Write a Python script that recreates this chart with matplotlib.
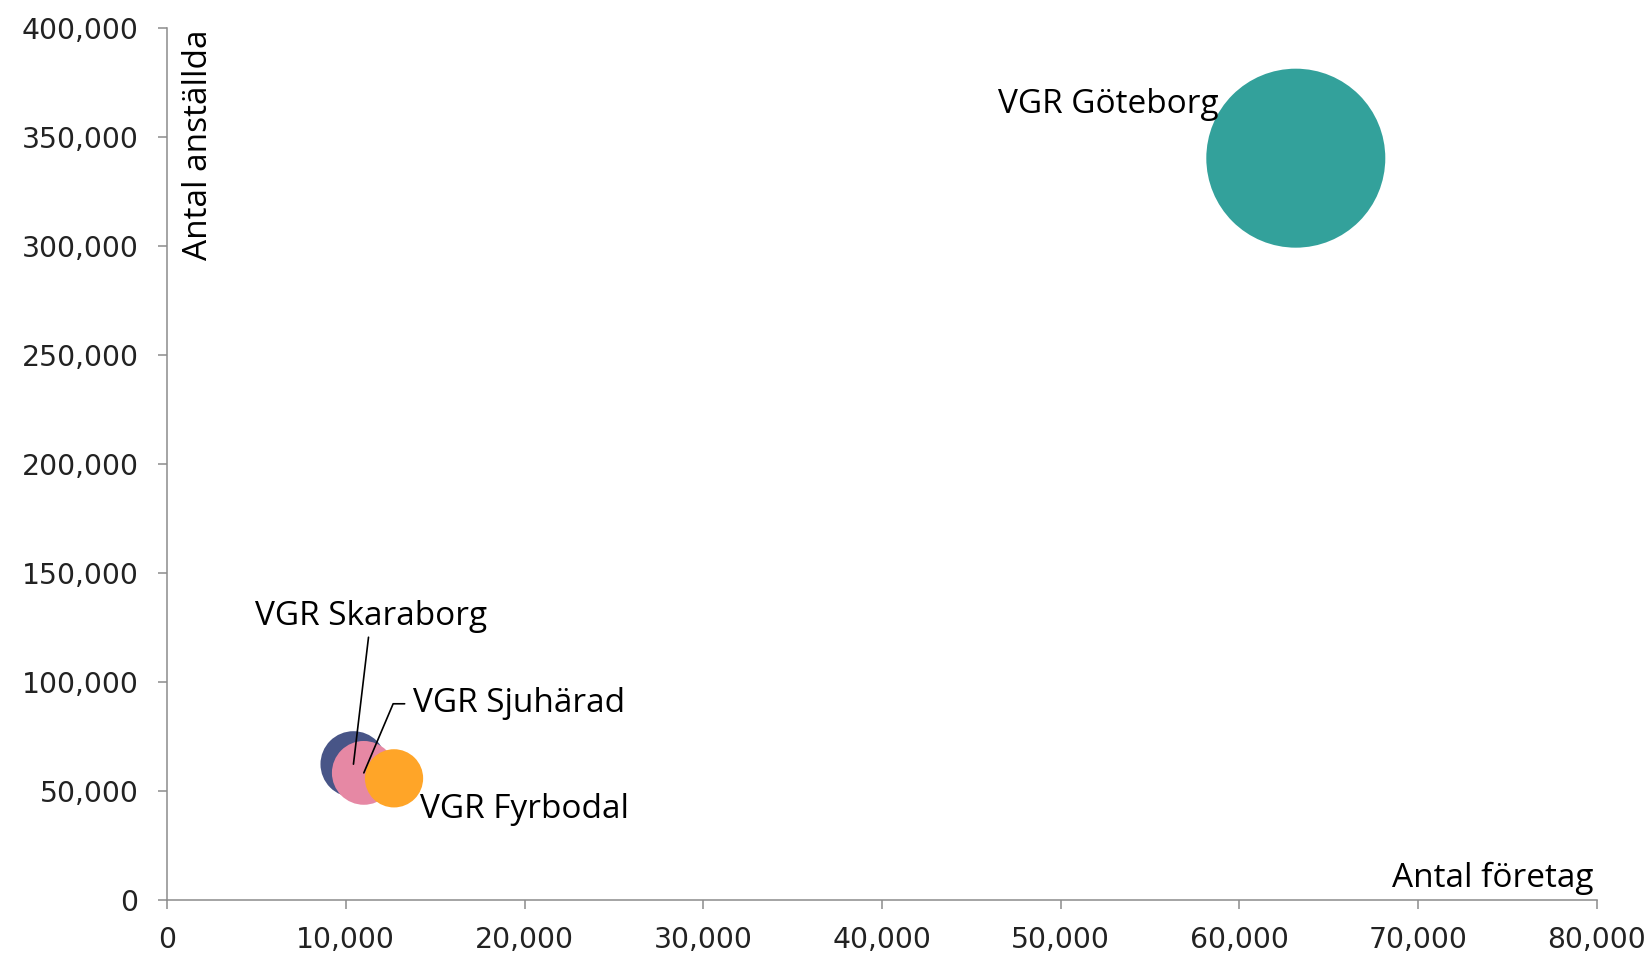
''' Bubble chart: antal företag vs antal anställda per delregion i VGR '''

import matplotlib
matplotlib.use("Agg")
import matplotlib.pyplot as plt
from matplotlib.ticker import FuncFormatter, MultipleLocator

# data
regions = ["VGR Göteborg", "VGR Skaraborg", "VGR Sjuhärad", "VGR Fyrbodal"]
foretag = [63150, 10430, 11010, 12700]        # x: antal företag
anstallda = [340300, 62300, 58300, 55800]     # y: antal anställda
bubble_size = [8030, 1090, 1020, 850]         # relative bubble area
colors = ["#33A19B", "#485587", "#E688A4", "#FFA528"]

LABEL_FONT = ["Open Sans", "DejaVu Sans"]
TICK_FONT = ["DejaVu Sans"]
LS = 24   # label font size

fig = plt.figure(figsize=(16.52, 9.57), dpi=100)
ax = fig.add_axes([0.1011, 0.0596, 0.8656, 0.9111])

# largest bubble ~179 px across
max_diam_pt = 179 * 72 / 100
sizes = [(max_diam_pt ** 2) * b / max(bubble_size) for b in bubble_size]
ax.scatter(foretag, anstallda, s=sizes, c=colors, linewidths=0, zorder=3)

ax.set_xlim(0, 80000)
ax.set_ylim(0, 400000)
ax.xaxis.set_major_locator(MultipleLocator(10000))
ax.yaxis.set_major_locator(MultipleLocator(50000))
fmt = FuncFormatter(lambda v, p: f"{int(v):,}")
ax.xaxis.set_major_formatter(fmt)
ax.yaxis.set_major_formatter(fmt)

for side in ["top", "right"]:
    ax.spines[side].set_visible(False)
for side in ["left", "bottom"]:
    ax.spines[side].set_color("#8C8C8C")
    ax.spines[side].set_linewidth(1.1)
ax.tick_params(axis="both", direction="out", length=6.5, width=1.1,
               color="#8C8C8C", labelsize=20.3, labelcolor="#222222")
ax.tick_params(axis="y", pad=14)
ax.tick_params(axis="x", pad=12)
for lab in ax.get_xticklabels() + ax.get_yticklabels():
    lab.set_family(TICK_FONT)

# axis titles inside the plot area
ax.text(0.0217, 0.998, "Antal anställda", transform=ax.transAxes, rotation=90,
        ha="center", va="top", fontsize=LS, family=LABEL_FONT)
ax.text(0.9975, 0.025, "Antal företag", transform=ax.transAxes,
        ha="right", va="center", fontsize=LS, family=LABEL_FONT)

# bubble labels
ax.text(58850, 365000, regions[0], ha="right", va="center",
        fontsize=LS, family=LABEL_FONT)
ax.annotate(regions[1], xy=(foretag[1], anstallda[1]), xytext=(11410, 130000),
            ha="center", va="center", fontsize=LS, family=LABEL_FONT,
            arrowprops=dict(arrowstyle="-", color="black", lw=1.2,
                            shrinkA=1, shrinkB=0))
ax.annotate(regions[2], xy=(foretag[2], anstallda[2]), xytext=(13760, 90000),
            ha="left", va="center", fontsize=LS, family=LABEL_FONT,
            arrowprops=dict(arrowstyle="-", color="black", lw=1.2,
                            relpos=(0, 0.5), shrinkA=4, shrinkB=0,
                            connectionstyle="angle,angleA=0,angleB=67,rad=0"))
ax.text(14150, 41600, regions[3], ha="left", va="center",
        fontsize=LS, family=LABEL_FONT)

fig.savefig("out.png", dpi=100)
